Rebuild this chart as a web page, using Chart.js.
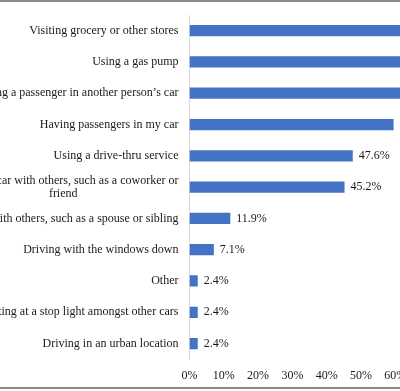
<!DOCTYPE html>
<html>
<head>
<meta charset="utf-8">
<script src="https://cdn.jsdelivr.net/npm/chart.js@4.4.1/dist/chart.umd.min.js"></script>
<style>
  html, body { margin: 0; padding: 0; background: #fff; overflow: hidden; width: 400px; height: 391px; }
  #wrap { position: absolute; left: -80px; top: 0; width: 640px; height: 391px; }
  .rule { position: absolute; left: 0; width: 400px; height: 2px; background: #8a8a8a; }
</style>
</head>
<body>
<div id="wrap"><canvas id="c" width="640" height="391"></canvas></div>
<div class="rule" style="top:0"></div>
<div class="rule" style="top:387px"></div>
<script>
const categories = [
  ["Visiting grocery or other stores"],
  ["Using a gas pump"],
  ["Being a passenger in another person\u2019s car"],
  ["Having passengers in my car"],
  ["Using a drive-thru service"],
  ["Sharing a car with others, such as a coworker or", "friend"],
  ["Riding with others, such as a spouse or sibling"],
  ["Driving with the windows down"],
  ["Other"],
  ["Sitting at a stop light amongst other cars"],
  ["Driving in an urban location"]
];
const values = [83.3, 76.2, 66.7, 59.5, 47.6, 45.2, 11.9, 7.1, 2.4, 2.4, 2.4];
const xTicks = [0, 10, 20, 30, 40, 50, 60, 70, 80, 90, 100];

const FAMILY = '"Liberation Serif", "Times New Roman", serif';
const FONT = '12px ' + FAMILY;
const TEXT = '#1a1a1a';

const catLabels = {
  id: 'catLabels',
  afterDraw(chart) {
    const ctx = chart.ctx, y = chart.scales.y;
    ctx.save();
    ctx.font = FONT;
    ctx.fillStyle = TEXT;
    ctx.textAlign = 'center';
    ctx.textBaseline = 'middle';
    const right = y.right - 11;
    const lh = 12.7;
    categories.forEach((lines, i) => {
      const cy = y.getPixelForValue(i);
      const maxW = Math.max(...lines.map(l => ctx.measureText(l).width));
      const cx = right - maxW / 2;
      const y0 = cy - (lines.length - 1) * lh / 2;
      lines.forEach((l, k) => ctx.fillText(l, cx, y0 + k * lh));
    });
    ctx.restore();
  }
};

const valueLabels = {
  id: 'valueLabels',
  afterDatasetsDraw(chart) {
    const ctx = chart.ctx;
    const meta = chart.getDatasetMeta(0);
    ctx.save();
    ctx.font = FONT;
    ctx.fillStyle = TEXT;
    ctx.textAlign = 'left';
    ctx.textBaseline = 'middle';
    meta.data.forEach((bar, i) => {
      ctx.fillText(values[i].toFixed(1) + '%', bar.x + 6, bar.y);
    });
    ctx.restore();
  }
};

new Chart(document.getElementById('c'), {
  type: 'bar',
  data: {
    labels: categories.map(l => l.join(' ')),
    datasets: [{
      data: values,
      backgroundColor: '#4472C4',
      borderWidth: 0,
      barPercentage: 0.36,
      categoryPercentage: 1
    }]
  },
  options: {
    indexAxis: 'y',
    responsive: false,
    animation: false,
    devicePixelRatio: 1,
    layout: { padding: { left: 0, right: 27.5, top: 15, bottom: 0 } },
    plugins: { legend: { display: false }, tooltip: { enabled: false } },
    scales: {
      x: {
        min: 0, max: 100,
        afterBuildTicks(s) { s.ticks = xTicks.map(v => ({ value: v })); },
        afterFit(s) { s.height = 31.8; },
        grid: { display: false, drawTicks: false },
        border: { display: false },
        ticks: {
          padding: 9,
          font: { family: FAMILY, size: 12 },
          color: TEXT,
          callback: v => v + '%'
        }
      },
      y: {
        afterFit(s) { s.width = 269.5; },
        grid: { display: false, drawTicks: false },
        border: { display: true, color: '#d9d9d9', width: 1 },
        ticks: { display: false }
      }
    }
  },
  plugins: [catLabels, valueLabels]
});
</script>
</body>
</html>
